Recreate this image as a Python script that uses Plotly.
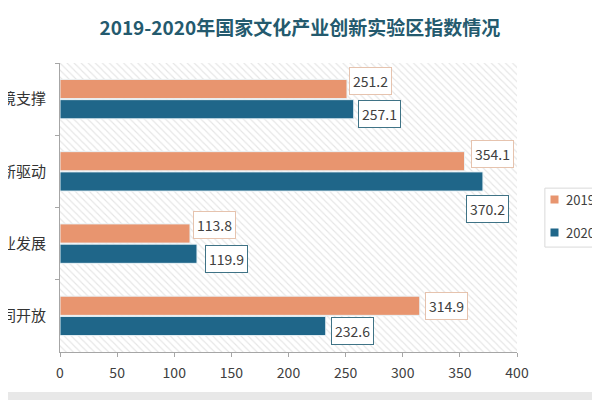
import plotly.graph_objects as go

# 数据
categories = ['环境支撑', '创新驱动', '产业发展', '协同开放']
values_2019 = [251.2, 354.1, 113.8, 314.9]
values_2020 = [257.1, 370.2, 119.9, 232.6]
series_names = ['2019年', '2020年']
x_ticks = [0, 50, 100, 150, 200, 250, 300, 350, 400]

COLOR_2019 = '#E8956F'
COLOR_2020 = '#1F6689'
FONT = 'Noto Sans CJK SC'

# 标签偏移 (像素), 模仿原图手动摆放
shift_2019 = [(2, 18), (6, 17), (3, 19), (5, 10)]
shift_2020 = [(4, -15), (-17, -38), (8, -15), (5, -15)]

fig = go.Figure()

# 斜线底纹背景 (放在底层坐标轴上)
fig.add_trace(go.Scatter(
    x=[0, 1, 1, 0, 0], y=[0, 0, 1, 1, 0], xaxis='x', yaxis='y',
    mode='none', fill='toself', fillcolor='white',
    fillpattern=dict(shape='\\', fgcolor='#cccccc', bgcolor='white', size=5, solidity=0.22),
    showlegend=False, hoverinfo='skip',
))

colors = [COLOR_2019, COLOR_2020]
for name, vals, color in zip(series_names, [values_2019, values_2020], colors):
    fig.add_trace(go.Bar(
        x=vals, y=categories, orientation='h', name=name,
        xaxis='x2', yaxis='y2',
        marker=dict(color=color, line=dict(color='#e9f2f6', width=1)),
        showlegend=False,
    ))

annotations = []
for vals, shifts, border in [(values_2019, shift_2019, '#e6c3ae'),
                             (values_2020, shift_2020, '#3f7386')]:
    for cat, v, (dx, dy) in zip(categories, vals, shifts):
        annotations.append(dict(
            x=v, y=cat, xref='x2', yref='y2', text=f'{v:.1f}', showarrow=False,
            xanchor='left', yanchor='middle', xshift=dx, yshift=dy,
            font=dict(family=FONT, size=14, color='#404040'),
            bgcolor='white', bordercolor=border, borderwidth=1, borderpad=3,
        ))

# 图例 (原图右侧被截断, 用注释模拟)
for name, color, ly in zip(series_names, colors, [0.526, 0.412]):
    annotations.append(dict(
        x=1.083, y=ly, xref='paper', yref='paper', text=' ', showarrow=False,
        xanchor='center', yanchor='middle', width=7, height=7, borderpad=0,
        bgcolor=color, font=dict(size=4),
    ))
    annotations.append(dict(
        x=1.102, y=ly, xref='paper', yref='paper', text=name, showarrow=False,
        xanchor='left', yanchor='middle',
        font=dict(family=FONT, size=13, color='#404040'),
    ))

fig.update_layout(
    width=592, height=392,
    margin=dict(l=52, r=83, t=55, b=48, autoexpand=False),
    paper_bgcolor='white', plot_bgcolor='white',
    barmode='group', bargap=0.44, bargroupgap=0.05,
    showlegend=False,
    title=dict(text='<b>2019-2020年国家文化产业创新实验区指数情况</b>',
               x=0.493, xref='container', y=0.949, yref='container', yanchor='middle',
               font=dict(family=FONT, size=19, color='#245a6e')),
    xaxis=dict(range=[0, 1], visible=False, fixedrange=True),
    yaxis=dict(range=[0, 1], visible=False, fixedrange=True),
    xaxis2=dict(overlaying='x', anchor='y2', range=[0, 400], tickvals=x_ticks,
                ticks='outside', ticklen=4, tickcolor='#a6a6a6',
                showline=True, linecolor='#a6a6a6', showgrid=False, zeroline=False,
                tickfont=dict(family=FONT, size=14, color='#404040'),
                ticklabelstandoff=4, automargin=False),
    yaxis2=dict(overlaying='y', anchor='x2', type='category', autorange='reversed',
                ticks='outside', tickson='boundaries', ticklen=4, tickcolor='#a6a6a6',
                showline=True, linecolor='#a6a6a6', showgrid=False,
                tickfont=dict(family=FONT, size=15, color='#333333'),
                ticklabelstandoff=10, automargin=False),
    annotations=annotations,
    shapes=[
        # 图例外框
        dict(type='rect', xref='paper', yref='paper', x0=1.061, x1=1.4, y0=0.363, y1=0.567,
             fillcolor='rgba(0,0,0,0)', line=dict(color='#d9d9d9', width=1), layer='below'),
        # 底部灰条
        dict(type='rect', xref='paper', yref='paper', x0=-0.3, x1=1.4, y0=-0.2, y1=-0.138,
             fillcolor='#e8e8e8', line_width=0, layer='above'),
    ],
)

fig.write_html('out.html')
